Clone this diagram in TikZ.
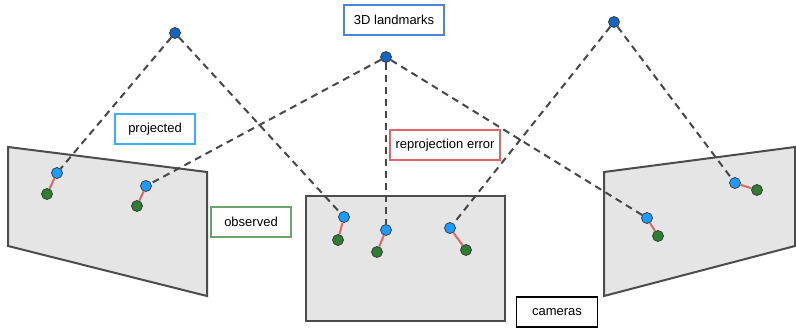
\documentclass[tikz,border=0pt]{standalone}
\usepackage{fontspec}
\setmainfont{Liberation Sans}
\usetikzlibrary{positioning}
\definecolor{lmblue}{HTML}{1565C0}
\definecolor{projblue}{HTML}{1E9BFF}
\definecolor{obsgreen}{HTML}{2E7D32}
\definecolor{errred}{HTML}{E06666}
\definecolor{tagblue}{HTML}{4A86D8}
\definecolor{tagsky}{HTML}{3DAEFF}
\definecolor{taggreen}{HTML}{6AA46A}
\tikzset{landmark/.style={circle,draw=black!80,fill=lmblue,inner sep=0pt,minimum size=11pt,line width=0.7pt}}
\tikzset{projpt/.style={circle,draw=black!80,fill=projblue,inner sep=0pt,minimum size=11pt,line width=0.7pt}}
\tikzset{obspt/.style={circle,draw=black!80,fill=obsgreen,inner sep=0pt,minimum size=11pt,line width=0.7pt}}
\tikzset{ray/.style={draw=black!72,line width=2pt,dash pattern=on 7pt off 5pt}}
\tikzset{err/.style={draw=errred,line width=2pt}}
\tikzset{plane/.style={draw=black!70,fill=black!10,line width=2pt}}
\tikzset{tag/.style={draw,fill=white,line width=1.5pt,minimum height=30pt,inner sep=0pt,font=\fontsize{13}{15}\selectfont}}

\begin{document}
\begin{tikzpicture}[x=1pt,y=-1pt]
\useasboundingbox (0,0) rectangle (796,329);

% image planes
\draw[plane] (8,147) -- (207,172) -- (207,296) -- (8,246) -- cycle;
\draw[plane] (306,196) rectangle (505,321);
\draw[plane] (604,172) -- (795,147) -- (795,246) -- (604,296) -- cycle;

% landmarks
\node[landmark] (L1) at (175,33) {};
\node[landmark] (L2) at (386,57) {};
\node[landmark] (L3) at (614,22) {};

% projected points
\node[projpt] (P1) at (57,173) {};
\node[projpt] (P2) at (146,186) {};
\node[projpt] (P3) at (344,217) {};
\node[projpt] (P4) at (386,230) {};
\node[projpt] (P5) at (450,228) {};
\node[projpt] (P6) at (647,218) {};
\node[projpt] (P7) at (735,183) {};

% observed points
\node[obspt] (O1) at (47,194) {};
\node[obspt] (O2) at (137,206) {};
\node[obspt] (O3) at (338,240) {};
\node[obspt] (O4) at (377,252) {};
\node[obspt] (O5) at (466,250) {};
\node[obspt] (O6) at (658,236) {};
\node[obspt] (O7) at (757,190) {};

% rays
\draw[ray] (L1) -- (P1);
\draw[ray] (L1) -- (P3);
\draw[ray] (L2) -- (P2);
\draw[ray] (L2) -- (P4);
\draw[ray] (L2) -- (P6);
\draw[ray] (L3) -- (P5);
\draw[ray] (L3) -- (P7);

% reprojection errors
\foreach \i in {1,...,7}
  \draw[err] (P\i) -- (O\i);

% labels
\node[tag,draw=tagblue,minimum width=100pt] (lmtag) at (394,20) {3D landmarks};
\node[tag,draw=tagsky,minimum width=80pt] (projtag) at (155,129) {projected};
\node[tag,draw=errred,minimum width=110pt] (errtag) at (445,145) {reprojection error};
\node[tag,draw=taggreen,minimum width=80pt] (obstag) at (251,222) {observed};
\node[tag,draw=black,minimum width=81pt] (camtag) at (557,312) {cameras};

\end{tikzpicture}
\end{document}
